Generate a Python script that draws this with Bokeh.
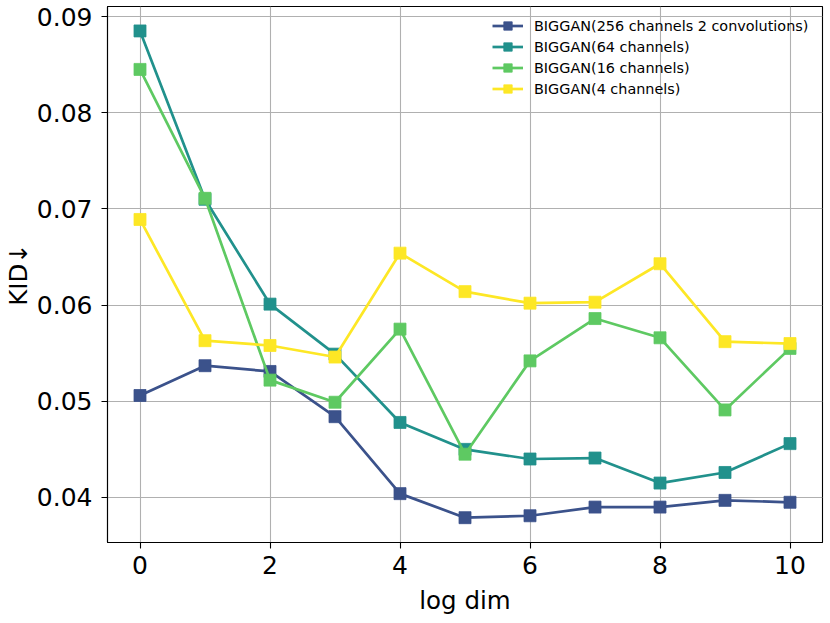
from bokeh.plotting import figure
from bokeh.models import FixedTicker, Range1d, Legend, LegendItem
from bokeh.embed import file_html
from bokeh.resources import INLINE

x = [0, 1, 2, 3, 4, 5, 6, 7, 8, 9, 10]
s256 = [0.0506, 0.0537, 0.0531, 0.0484, 0.0404, 0.0379, 0.0381, 0.0390, 0.0390, 0.0397, 0.0395]
s64 = [0.0885, 0.0710, 0.0601, 0.0549, 0.0478, 0.0450, 0.0440, 0.0441, 0.0415, 0.0426, 0.0456]
s16 = [0.0845, 0.0711, 0.0522, 0.0499, 0.0575, 0.0445, 0.0542, 0.0586, 0.0566, 0.0491, 0.0555]
s4 = [0.0689, 0.0563, 0.0558, 0.0546, 0.0654, 0.0614, 0.0602, 0.0603, 0.0643, 0.0562, 0.0560]

names = ["BIGGAN(256 channels 2 convolutions)", "BIGGAN(64 channels)",
         "BIGGAN(16 channels)", "BIGGAN(4 channels)"]
series = [s256, s64, s16, s4]
colors = ["#3b528b", "#21918c", "#5ec962", "#fde725"]

xticks = [0, 2, 4, 6, 8, 10]
yticks = [0.04, 0.05, 0.06, 0.07, 0.08, 0.09]
ytick_labels = {0.04: "0.04", 0.05: "0.05", 0.06: "0.06", 0.07: "0.07", 0.08: "0.08", 0.09: "0.09"}
x_title = "log dim"
y_title = "KID\u2193"

FONT = "DejaVu Sans"

p = figure(width=830, height=623, output_backend="svg", toolbar_location=None,
           x_range=Range1d(-0.5, 10.5), y_range=Range1d(0.03532, 0.09104),
           min_border_left=107, min_border_right=8, min_border_top=6, min_border_bottom=81)

p.outline_line_color = "black"
p.outline_line_width = 1.1
p.outline_line_alpha = 1.0

items = []
for name, ys, c in zip(names, series, colors):
    r1 = p.line(x, ys, line_color=c, line_width=2.7)
    r2 = p.scatter(x, ys, marker="square", size=12, fill_color=c, line_color=c, line_width=0.8)
    items.append(LegendItem(label=name, renderers=[r1, r2]))

legend = Legend(items=items, location=(380, 438), orientation="vertical")
legend.label_text_font = FONT
legend.label_text_font_size = "14.4px"
legend.label_text_color = "black"
legend.glyph_width = 31
legend.glyph_height = 21
legend.label_height = 21
legend.label_standoff = 11
legend.spacing = 0
legend.padding = 5
legend.margin = 0
legend.border_line_alpha = 0
legend.background_fill_alpha = 0
p.add_layout(legend, "center")

for ax in (p.xaxis[0], p.yaxis[0]):
    ax.axis_line_color = "black"
    ax.axis_line_width = 1.1
    ax.major_tick_line_color = "black"
    ax.major_tick_line_width = 1.1
    ax.major_tick_out = 6
    ax.major_tick_in = 0
    ax.minor_tick_line_color = None
    ax.major_label_text_font = FONT
    ax.major_label_text_font_size = "25px"
    ax.major_label_text_color = "black"
    ax.axis_label_text_font = FONT
    ax.axis_label_text_font_size = "24.5px"
    ax.axis_label_text_font_style = "normal"
    ax.axis_label_text_color = "black"

p.xaxis.ticker = FixedTicker(ticks=xticks)
p.yaxis.ticker = FixedTicker(ticks=yticks)
p.yaxis.major_label_overrides = ytick_labels
p.xaxis.axis_label = x_title
p.yaxis.axis_label = y_title
p.xaxis.major_label_standoff = 7
p.yaxis.major_label_standoff = 9
p.xaxis.axis_label_standoff = 9
p.yaxis.axis_label_standoff = 1

p.xgrid.ticker = FixedTicker(ticks=xticks)
p.ygrid.ticker = FixedTicker(ticks=yticks)
for g in (p.xgrid[0], p.ygrid[0]):
    g.grid_line_color = "#b0b0b0"
    g.grid_line_width = 1.1

open("out.html", "w").write(file_html(p, INLINE))
